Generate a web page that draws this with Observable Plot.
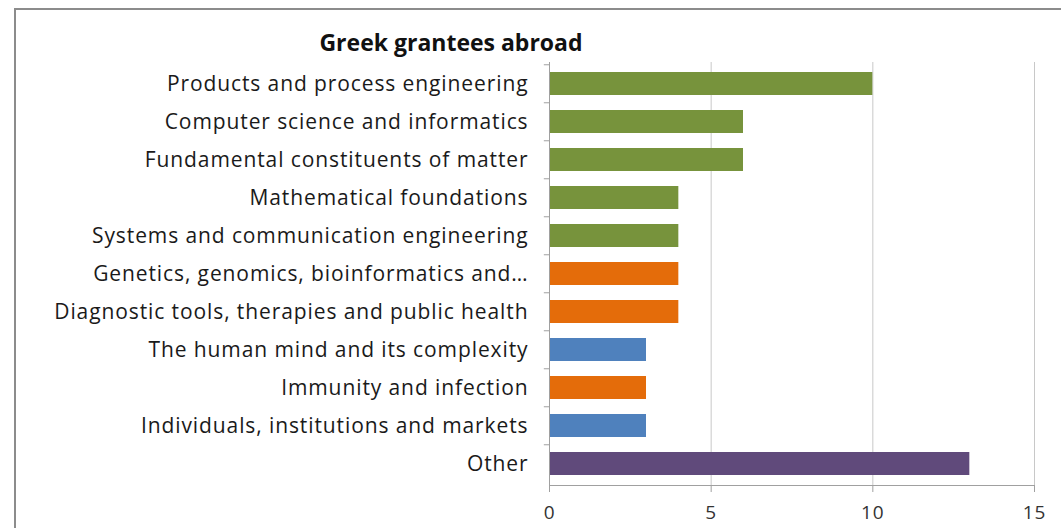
<!DOCTYPE html>
<html>
<head>
<meta charset="utf-8">
<script src="https://cdn.jsdelivr.net/npm/d3@7"></script>
<script src="https://cdn.jsdelivr.net/npm/@observablehq/plot@0.6"></script>
<style>
  html, body { margin: 0; padding: 0; background: #fff; }
  #wrap { position: relative; width: 1061px; height: 528px; overflow: hidden; font-family: "Open Sans", sans-serif; }
  #frame { position: absolute; left: 14px; top: 8px; width: 1100px; height: 600px; border-top: 2px solid #8c8c8c; border-left: 2px solid #8c8c8c; box-sizing: border-box; }
  #title { position: absolute; left: 0; width: 902px; top: 27px; text-align: center; font-size: 23px; font-weight: bold; color: #111; margin: 0; line-height: 30px; }
  #chart { position: absolute; left: 0; top: 55px; }
  #chart svg text { letter-spacing: 0.9px; }
</style>
</head>
<body>
<div id="wrap">
  <div id="frame"></div>
  <div id="title">Greek grantees abroad</div>
  <div id="chart"></div>
</div>
<script>
const categories = [
  "Products and process engineering",
  "Computer science and informatics",
  "Fundamental constituents of matter",
  "Mathematical foundations",
  "Systems and communication engineering",
  "Genetics, genomics, bioinformatics and…",
  "Diagnostic tools, therapies and public health",
  "The human mind and its complexity",
  "Immunity and infection",
  "Individuals, institutions and markets",
  "Other"
];
const values = [10, 6, 6, 4, 4, 4, 4, 3, 3, 3, 13];
const groups = ["PE", "PE", "PE", "PE", "PE", "LS", "LS", "SH", "LS", "SH", "Other"];
const groupNames = ["PE", "LS", "SH", "Other"];
const groupColors = ["#77933C", "#E46C0A", "#4F81BD", "#604A7B"];
const xTicks = [0, 5, 10, 15];

const data = categories.map((c, i) => ({category: c, value: values[i], group: groups[i]}));

const H = 473, MT = 7, MB = 43;
const step = (H - MT - MB) / categories.length;

const chart = Plot.plot({
  width: 1061,
  height: H,
  marginLeft: 549,
  marginRight: 27,
  marginTop: MT,
  marginBottom: MB,
  style: {fontFamily: "'Open Sans', sans-serif", fontSize: "21px", color: "#222", background: "transparent", overflow: "visible"},
  x: {domain: [0, 15], ticks: xTicks, label: null},
  y: {domain: categories, paddingInner: 0.39, paddingOuter: 0.195, label: null},
  color: {domain: groupNames, range: groupColors},
  marks: [
    Plot.gridX(xTicks, {stroke: "#c8c8c8", strokeOpacity: 1}),
    Plot.barX(data, {y: "category", x: "value", fill: "group"}),
    Plot.ruleX([0], {stroke: "#a0a0a0"}),
    Plot.frame({anchor: "bottom", stroke: "#a0a0a0"}),
    Plot.ruleY(categories, {y: d => d, x1: -0.16, x2: 0, dy: -step / 2, stroke: "#a0a0a0", clip: false}),
    Plot.axisX({ticks: xTicks, tickSize: 7, tickPadding: 13, stroke: "#a0a0a0", fill: "#333", fontSize: 19}),
    Plot.axisY({tickSize: 0, tickPadding: 21, fill: "#1a1a1a", fontSize: 21})
  ]
});
document.getElementById("chart").appendChild(chart);
</script>
</body>
</html>
